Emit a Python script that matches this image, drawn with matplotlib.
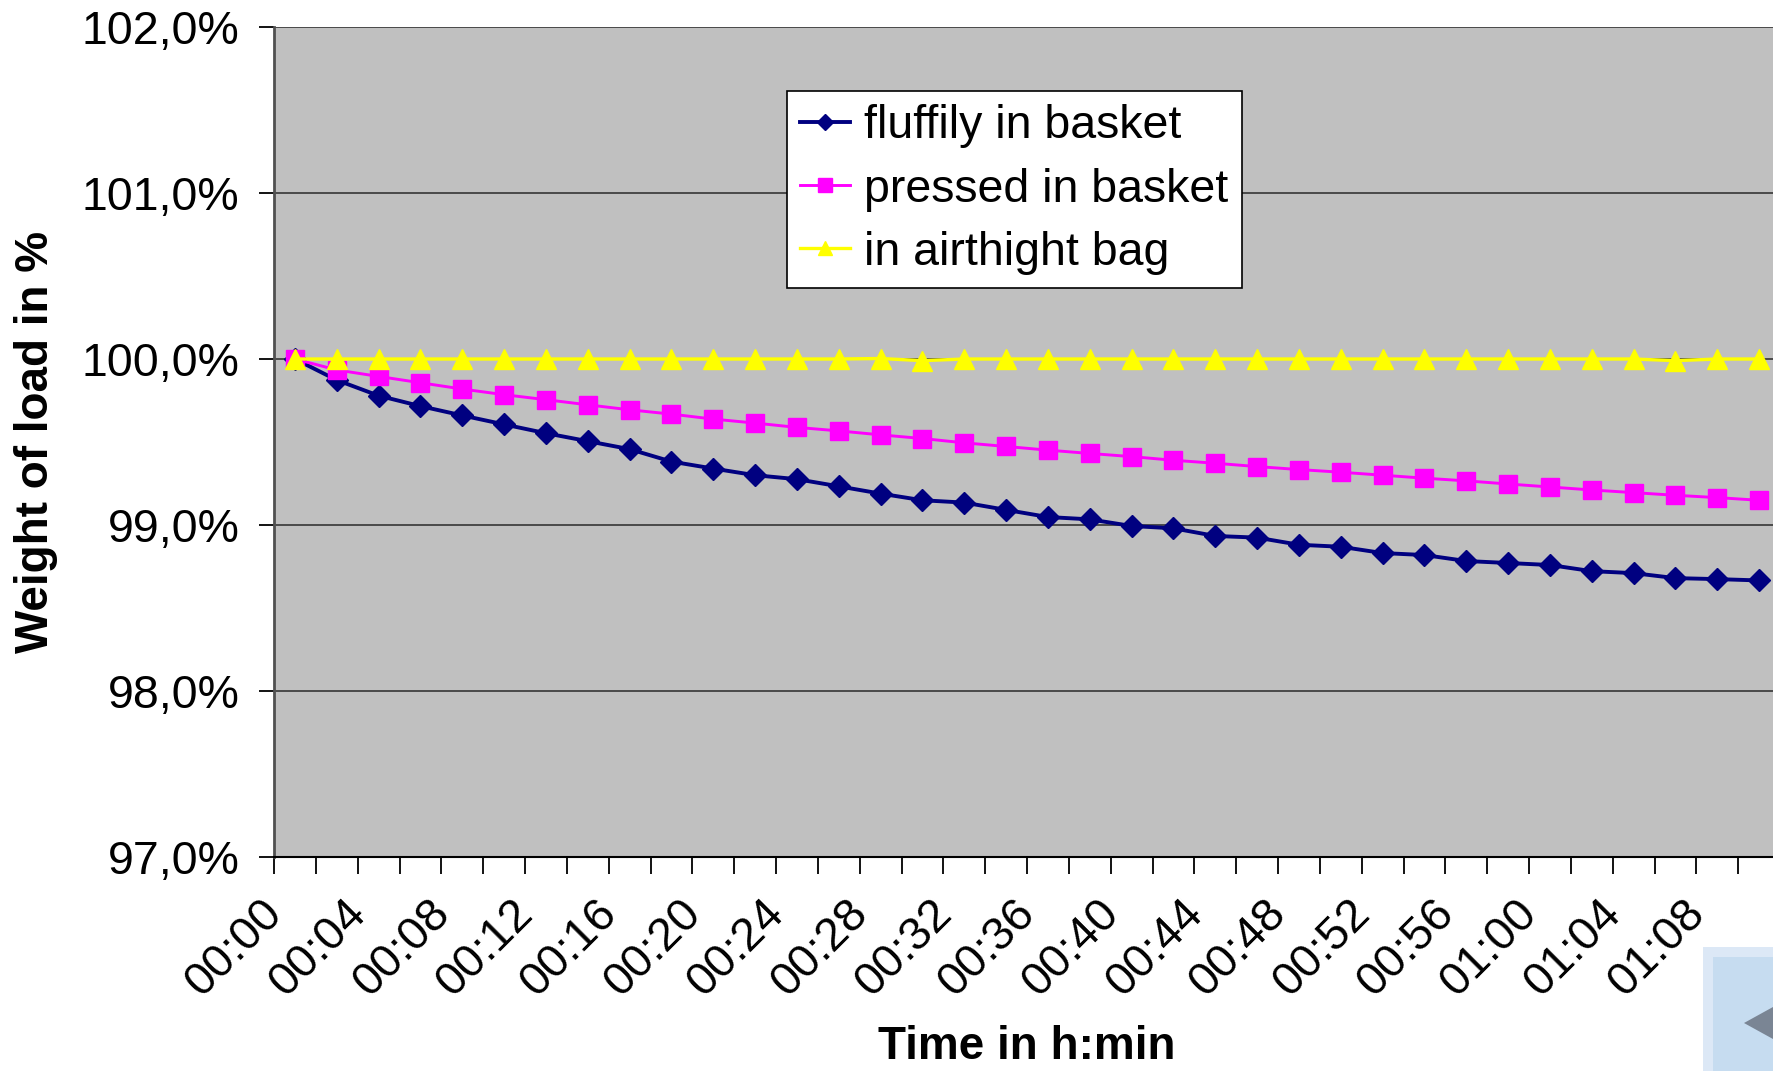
import matplotlib
matplotlib.use('Agg')
import matplotlib.pyplot as plt
import matplotlib.transforms as mtransforms
from matplotlib.patches import Rectangle, Polygon

plt.rcParams['font.family'] = ['Liberation Sans', 'DejaVu Sans']

# categories: one reading every 2 minutes
times = ['%02d:%02d' % divmod(m, 60) for m in range(0, 72, 2)]

fluffily = [100.000, 99.873, 99.779, 99.716, 99.660, 99.606, 99.553, 99.505, 99.457, 99.382,
            99.340, 99.300, 99.276, 99.233, 99.189, 99.149, 99.135, 99.091, 99.048, 99.034,
            98.994, 98.980, 98.934, 98.924, 98.881, 98.869, 98.831, 98.819, 98.783, 98.771,
            98.759, 98.722, 98.710, 98.680, 98.674, 98.666]
pressed = [100.000, 99.934, 99.895, 99.857, 99.819, 99.785, 99.755, 99.724, 99.694, 99.668,
           99.638, 99.614, 99.588, 99.567, 99.543, 99.521, 99.495, 99.473, 99.451, 99.431,
           99.412, 99.390, 99.372, 99.352, 99.334, 99.318, 99.300, 99.282, 99.266, 99.247,
           99.229, 99.211, 99.195, 99.179, 99.165, 99.149]
airtight = [100.000, 100.000, 100.000, 100.000, 100.000, 100.000, 100.000, 100.000, 100.000, 100.000,
            100.000, 100.000, 100.000, 100.000, 100.003, 99.990, 100.000, 100.000, 100.000, 100.000,
            100.000, 100.000, 100.000, 100.000, 100.000, 100.000, 100.000, 100.000, 100.000, 100.000,
            100.000, 100.000, 100.000, 99.990, 100.000, 100.000]

yticks = [97, 98, 99, 100, 101, 102]

fig = plt.figure(figsize=(17.73, 10.71), dpi=100)
ax = fig.add_axes([274 / 1773, 1 - 857 / 1071, 1506 / 1773, 830 / 1071])
ax.set_facecolor('#c0c0c0')

x = list(range(len(times)))
ax.plot(x, fluffily, color='#000080', lw=2.8, marker='D', ms=11, label='fluffily in basket', zorder=3)
ax.plot(x, pressed, color='#ff00ff', lw=2.1, marker='s', ms=12.5, label='pressed in basket', zorder=4)
ax.plot(x, airtight, color='#ffff00', lw=2.4, marker='^', ms=14, label='in airthight bag', zorder=5)

ax.set_xlim(-0.5, len(times) - 0.5)
ax.set_ylim(97, 102)

ax.set_yticks(yticks)
ax.set_yticklabels([('%.1f%%' % v).replace('.', ',') for v in yticks], fontsize=33.5)
ax.grid(axis='y', color='#404040', lw=1.3, zorder=1)
ax.set_axisbelow(True)

bounds = [i - 0.5 for i in range(len(times) + 1)]
labels = [times[i] if (i % 2 == 0 and i < len(times)) else '' for i in range(len(bounds))]
ax.set_xticks(bounds)
ax.set_xticklabels(labels, fontsize=33.5, rotation=45, ha='right')
ax.tick_params(axis='x', length=12, width=1.3, pad=13)
ax.tick_params(axis='y', length=11, width=1.3, pad=14)
shift = mtransforms.ScaledTranslation(0.17, 0, fig.dpi_scale_trans)
for lab in ax.get_xticklabels():
    lab.set_transform(lab.get_transform() + shift)

for side in ['top', 'right']:
    ax.spines[side].set_visible(False)
ax.spines['left'].set_color('#505050')
ax.spines['left'].set_linewidth(2)
ax.spines['bottom'].set_color('black')
ax.spines['bottom'].set_linewidth(1.5)

leg = ax.legend(loc='upper left', bbox_to_anchor=((787 - 274) / 1506, (857 - 91) / 830),
                fontsize=33.5, frameon=True, fancybox=False, framealpha=1, edgecolor='black',
                handlelength=1.07, handletextpad=0.29, labelspacing=0.41, borderpad=0.29,
                borderaxespad=0, markerscale=0.75)
leg.get_frame().set_linewidth(1.2)

fig.text(1027 / 1773, (1071 - 1059) / 1071, 'Time in h:min', fontsize=33, fontweight='bold',
         ha='center', va='baseline')
fig.text(36 / 1773, 1 - 442 / 1071, 'Weight of load in %', fontsize=33, fontweight='bold',
         rotation=90, ha='center', va='center')

# navigation button cut off in the bottom right corner
fig.patches.append(Rectangle((1703 / 1773, 0), 70 / 1773, 124 / 1071, transform=fig.transFigure,
                             facecolor='#dce8f6', edgecolor='none'))
fig.patches.append(Rectangle((1713 / 1773, 0), 60 / 1773, 114 / 1071, transform=fig.transFigure,
                             facecolor='#c6dcf0', edgecolor='none'))
fig.patches.append(Polygon([(1744 / 1773, 1 - 1023 / 1071), (1773 / 1773, 1 - 1007 / 1071),
                            (1773 / 1773, 1 - 1039 / 1071)], transform=fig.transFigure,
                           facecolor='#7a8594', edgecolor='none'))

fig.savefig('out.png', dpi=100)
